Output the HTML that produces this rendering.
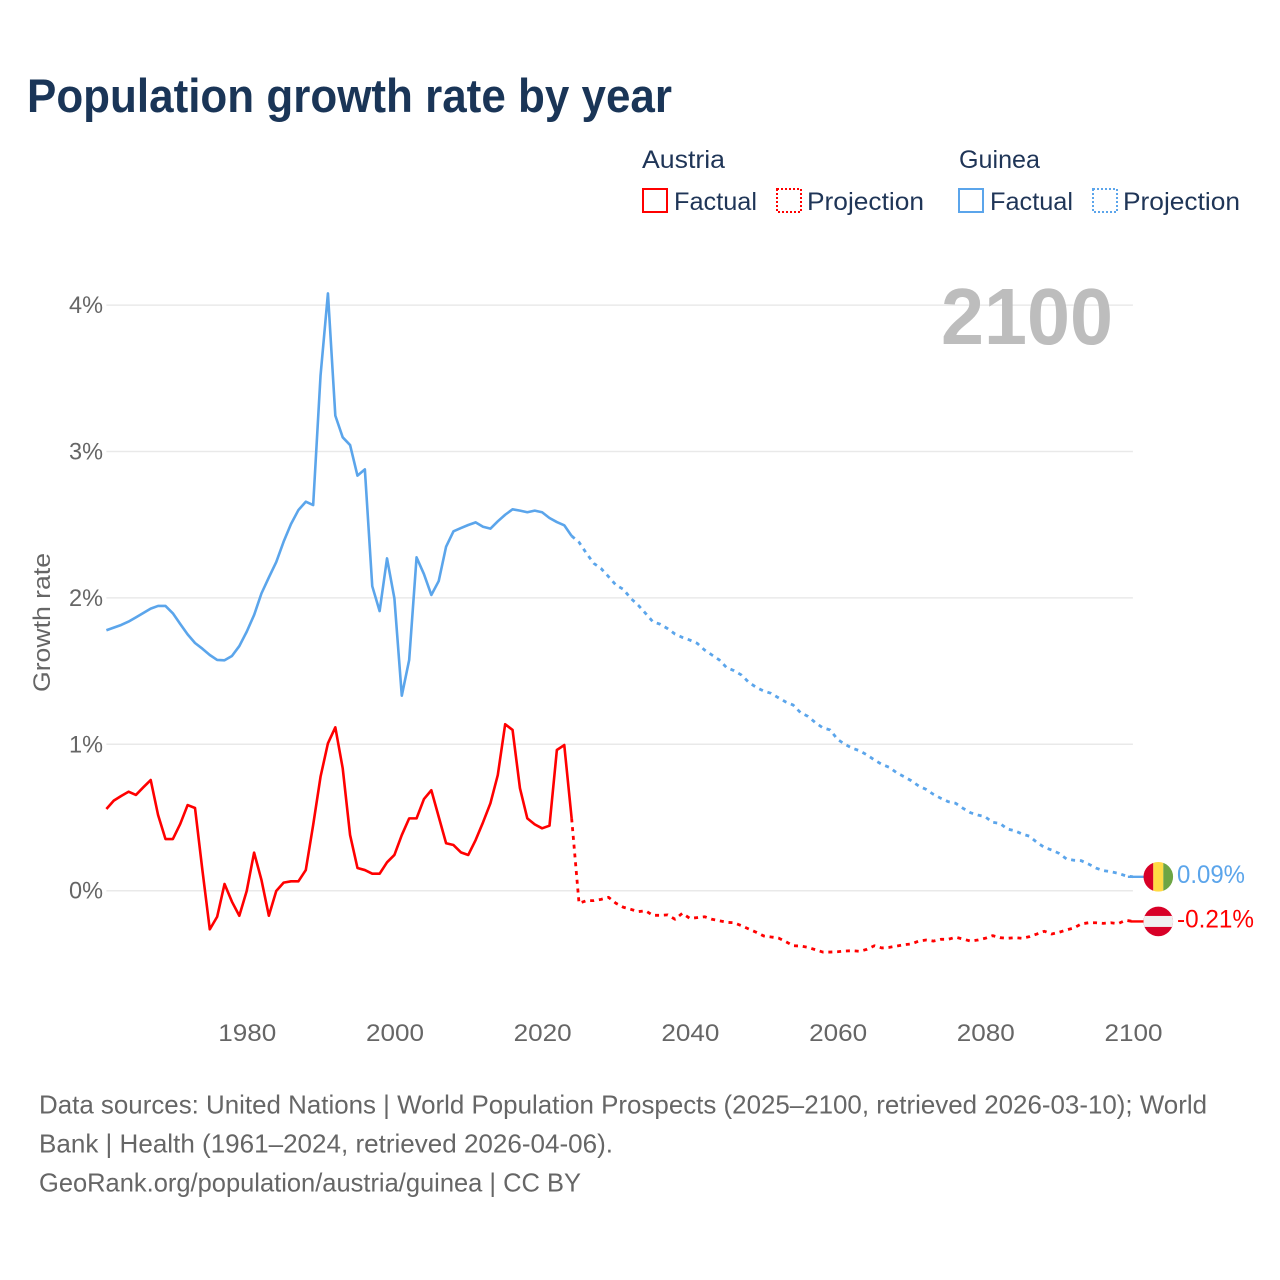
<!DOCTYPE html>
<html lang="en">
<head>
<meta charset="utf-8">
<title>Population growth rate by year</title>
<style>
html,body{margin:0;padding:0;background:#fff;width:1280px;height:1280px;overflow:hidden}
svg{display:block}
text{font-family:"Liberation Sans",Arial,sans-serif}
</style>
</head>
<body>
<svg id="chart" xmlns="http://www.w3.org/2000/svg" width="1280" height="1280" viewBox="0 0 1280 1280">
  <rect x="0" y="0" width="1280" height="1280" fill="#fff"/>
  <text x="27" y="112" font-size="47" font-weight="700" fill="#1a3557" textLength="645" lengthAdjust="spacingAndGlyphs">Population growth rate by year</text>

  <g font-size="25" fill="#1f3557">
    <text x="642" y="168" textLength="83" lengthAdjust="spacingAndGlyphs">Austria</text>
    <rect x="643" y="189" width="24" height="23" fill="none" stroke="#ff0000" stroke-width="2"/>
    <text x="674" y="210" textLength="83" lengthAdjust="spacingAndGlyphs">Factual</text>
    <rect x="777" y="189" width="24" height="23" fill="none" stroke="#ff0000" stroke-width="2" stroke-dasharray="2 2"/>
    <text x="807" y="210" textLength="117" lengthAdjust="spacingAndGlyphs">Projection</text>
    <text x="959" y="168" textLength="81" lengthAdjust="spacingAndGlyphs">Guinea</text>
    <rect x="959" y="189" width="24" height="23" fill="none" stroke="#5ba5eb" stroke-width="2"/>
    <text x="990" y="210" textLength="83" lengthAdjust="spacingAndGlyphs">Factual</text>
    <rect x="1093" y="189" width="24" height="23" fill="none" stroke="#5ba5eb" stroke-width="2" stroke-dasharray="2 2"/>
    <text x="1123" y="210" textLength="117" lengthAdjust="spacingAndGlyphs">Projection</text>
  </g>

  <g id="grid"></g>
  <g id="ytick-labels"></g>
  <g id="xtick-labels"></g>

  <text transform="translate(50,692) rotate(-90)" font-size="24" fill="#666" textLength="139" lengthAdjust="spacingAndGlyphs">Growth rate</text>

  <text x="941" y="344" font-size="80" font-weight="700" fill="#bdbdbd" textLength="172" lengthAdjust="spacingAndGlyphs">2100</text>

  <g id="series"></g>

  <g id="flag-guinea">
    <clipPath id="clip-gn"><circle cx="0" cy="0" r="14.8"/></clipPath>
    <g clip-path="url(#clip-gn)">
      <rect x="-15" y="-15" width="10" height="30" fill="#d80027"/>
      <rect x="-5" y="-15" width="10" height="30" fill="#ffda44"/>
      <rect x="5" y="-15" width="10" height="30" fill="#6da544"/>
    </g>
  </g>
  <g id="flag-austria">
    <clipPath id="clip-at"><circle cx="0" cy="0" r="14.8"/></clipPath>
    <g clip-path="url(#clip-at)">
      <rect x="-15" y="-15" width="30" height="30" fill="#d80027"/>
      <rect x="-15" y="-5.5" width="30" height="11" fill="#f0f0f0"/>
    </g>
  </g>
  <text id="end-label-guinea" x="1177" y="884" font-size="25" fill="#5ba5eb" textLength="68" lengthAdjust="spacingAndGlyphs">0.09%</text>
  <text id="end-label-austria" x="1177" y="928" font-size="25" fill="#ff0000" textLength="77" lengthAdjust="spacingAndGlyphs">-0.21%</text>

  <g font-size="26" fill="#666">
    <text x="39" y="1113.5" textLength="1168" lengthAdjust="spacingAndGlyphs">Data sources: United Nations | World Population Prospects (2025–2100, retrieved 2026-03-10); World</text>
    <text x="39" y="1152.5" textLength="574" lengthAdjust="spacingAndGlyphs">Bank | Health (1961–2024, retrieved 2026-04-06).</text>
    <text x="39" y="1191.5" textLength="542" lengthAdjust="spacingAndGlyphs">GeoRank.org/population/austria/guinea | CC BY</text>
  </g>
</svg>
<script>
// Values in percent. Factual series start in 1961; projections start in 2024.
const factualStartYear = 1961;
const projectionStartYear = 2024;
const xTickYears = [1980, 2000, 2020, 2040, 2060, 2080, 2100];
const yTickValues = [0, 1, 2, 3, 4];
const yTickLabels = ['0%', '1%', '2%', '3%', '4%'];

const guineaFactual = [
  1.779,1.797,1.815,1.838,1.867,1.897,1.927,1.945,1.945,1.895,
  1.822,1.751,1.692,1.653,1.61,1.576,1.574,1.603,1.671,1.769,
  1.883,2.031,2.14,2.245,2.384,2.505,2.60,2.657,2.634,3.52,
  4.08,3.245,3.097,3.044,2.835,2.878,2.08,1.91,2.27,1.997,
  1.332,1.576,2.277,2.163,2.02,2.115,2.35,2.455,2.477,2.498,
  2.516,2.486,2.473,2.523,2.568,2.605,2.596,2.585,2.596,2.585,
  2.546,2.518,2.496,2.423
];
const guineaProjection = [
  2.423,2.38,2.305,2.236,2.20,2.145,2.088,2.059,1.997,1.951,
  1.895,1.837,1.82,1.79,1.753,1.73,1.712,1.69,1.644,1.61,
  1.576,1.523,1.503,1.473,1.423,1.389,1.364,1.348,1.318,1.289,
  1.268,1.216,1.191,1.148,1.113,1.098,1.034,1.0,0.973,0.956,
  0.927,0.893,0.863,0.843,0.806,0.779,0.751,0.715,0.692,0.658,
  0.631,0.608,0.597,0.563,0.533,0.517,0.505,0.467,0.46,0.421,
  0.41,0.387,0.372,0.33,0.296,0.278,0.255,0.217,0.208,0.205,
  0.182,0.155,0.137,0.13,0.119,0.102,0.095
];
const austriaFactual = [
  0.558,0.615,0.647,0.676,0.654,0.706,0.756,0.517,0.353,0.353,
  0.456,0.585,0.565,0.141,-0.264,-0.178,0.046,-0.075,-0.171,-0.002,
  0.26,0.073,-0.171,-0.002,0.055,0.064,0.064,0.141,0.449,0.779,
  1.007,1.116,0.836,0.38,0.155,0.141,0.116,0.116,0.194,0.244,
  0.38,0.494,0.494,0.626,0.686,0.505,0.324,0.312,0.262,0.244,
  0.346,0.467,0.597,0.79,1.137,1.098,0.70,0.494,0.453,0.426,
  0.444,0.961,0.995,0.494
];
const austriaProjection = [
  0.494,-0.086,-0.068,-0.068,-0.059,-0.045,-0.086,-0.113,-0.127,-0.143,
  -0.137,-0.168,-0.168,-0.165,-0.195,-0.154,-0.189,-0.184,-0.178,-0.195,
  -0.205,-0.216,-0.219,-0.239,-0.262,-0.284,-0.309,-0.316,-0.323,-0.348,
  -0.376,-0.378,-0.387,-0.403,-0.419,-0.419,-0.417,-0.412,-0.41,-0.414,
  -0.40,-0.376,-0.391,-0.387,-0.378,-0.369,-0.364,-0.344,-0.337,-0.344,
  -0.332,-0.332,-0.318,-0.33,-0.344,-0.337,-0.325,-0.307,-0.321,-0.325,
  -0.321,-0.325,-0.314,-0.296,-0.277,-0.296,-0.284,-0.268,-0.255,-0.227,
  -0.219,-0.219,-0.223,-0.219,-0.225,-0.202,-0.21
];

const NS = 'http://www.w3.org/2000/svg';
function xScale(year) { return 1132.9 - (2100 - year) * 7.385; }
function yScale(value) { return 890.7 - value * 146.4; }
function make(tag, attrs, parent) {
  const el = document.createElementNS(NS, tag);
  for (const k in attrs) el.setAttribute(k, attrs[k]);
  parent.appendChild(el);
  return el;
}
function linePath(values, startYear) {
  return values.map(function (v, i) {
    return (i ? 'L' : 'M') + xScale(startYear + i).toFixed(2) + ' ' + yScale(v).toFixed(2);
  }).join(' ');
}

const gridGroup = document.getElementById('grid');
const yLabelGroup = document.getElementById('ytick-labels');
yTickValues.forEach(function (v, i) {
  const gl = make('line', {x1: xScale(1961), x2: xScale(2100), y1: yScale(v), y2: yScale(v), stroke: '#e9e9e9', 'stroke-width': 1.5}, gridGroup);
  
  
  const t = make('text', {x: 103, y: yScale(v) + 8, 'text-anchor': 'end', 'font-size': 24, fill: '#666', textLength: 34, lengthAdjust: 'spacingAndGlyphs'}, yLabelGroup);
  
  
  t.textContent = yTickLabels[i];
});

const xLabelGroup = document.getElementById('xtick-labels');
xTickYears.forEach(function (yr) {
  const t = make('text', {x: xScale(yr) - 28.4, y: 1041, 'font-size': 24, fill: '#666', textLength: 58, lengthAdjust: 'spacingAndGlyphs'}, xLabelGroup);
  
  
  t.textContent = String(yr);
});

const seriesGroup = document.getElementById('series');
const COLOR_GN = '#5ba5eb', COLOR_AT = '#ff0000';
function drawLine(values, startYear, color, dashed) {
  const attrs = {d: linePath(values, startYear), fill: 'none', stroke: color, 'stroke-width': dashed ? 2.8 : 2.6, 'stroke-linejoin': 'round'};
  if (dashed) attrs['stroke-dasharray'] = '4 4.8';
  return make('path', attrs, seriesGroup);
}
const pGF = drawLine(guineaFactual, factualStartYear, COLOR_GN, false);


const pGP = drawLine(guineaProjection, projectionStartYear, COLOR_GN, true);


const pAF = drawLine(austriaFactual, factualStartYear, COLOR_AT, false);


const pAP = drawLine(austriaProjection, projectionStartYear, COLOR_AT, true);



// End markers follow the last projected value
const gnEnd = guineaProjection[guineaProjection.length - 1];
const atEnd = austriaProjection[austriaProjection.length - 1];
const lGN = make('line', {x1: xScale(2100) - 5, x2: 1145, y1: yScale(gnEnd), y2: yScale(gnEnd), stroke: COLOR_GN, 'stroke-width': 2.4}, seriesGroup);


const lAT = make('line', {x1: xScale(2100) - 2, x2: 1145, y1: yScale(atEnd), y2: yScale(atEnd), stroke: COLOR_AT, 'stroke-width': 2.4}, seriesGroup);


document.getElementById('flag-guinea').setAttribute('transform', 'translate(1158.3,' + yScale(gnEnd) + ')');
document.getElementById('flag-austria').setAttribute('transform', 'translate(1158.3,' + yScale(atEnd) + ')');
document.getElementById('end-label-guinea').setAttribute('y', yScale(gnEnd) + 6);
document.getElementById('end-label-austria').setAttribute('y', yScale(atEnd) + 6);
</script>
</body>
</html>
